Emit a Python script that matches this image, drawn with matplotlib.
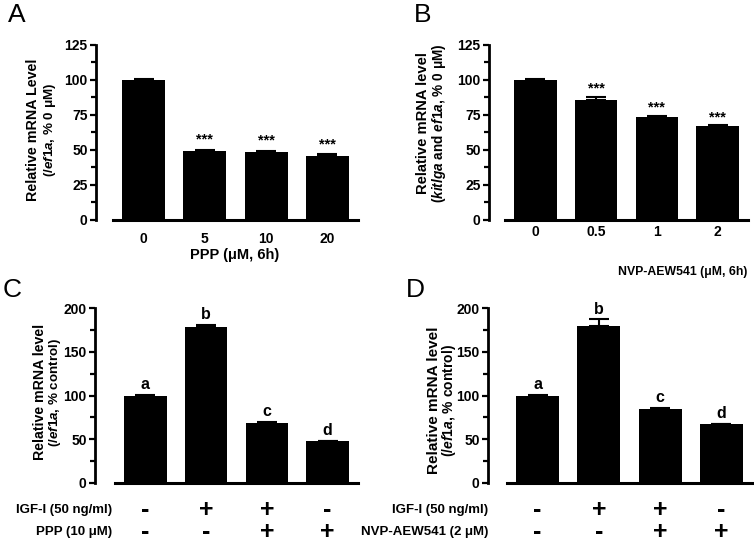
import matplotlib
matplotlib.use('Agg')
import matplotlib.pyplot as plt
import numpy as np
from matplotlib.ticker import MultipleLocator
from matplotlib.transforms import blended_transform_factory

plt.rcParams['font.family'] = ['Liberation Sans', 'DejaVu Sans']
plt.rcParams['font.weight'] = 'bold'
plt.rcParams['mathtext.fontset'] = 'custom'
plt.rcParams['mathtext.it'] = 'Liberation Sans:italic:bold'
plt.rcParams['mathtext.rm'] = 'Liberation Sans:bold'
plt.rcParams['mathtext.bf'] = 'Liberation Sans:bold'

# ---------------- data ----------------
a_labels = ['0', '5', '10', '20']
a_values = [100, 49, 48.5, 46]
a_errors = [1.0, 1.0, 0.5, 0.8]
a_marks = ['', '***', '***', '***']

b_labels = ['0', '0.5', '1', '2']
b_values = [100, 86, 73.5, 67]
b_errors = [1.0, 2.0, 0.8, 0.5]
b_marks = ['', '***', '***', '***']

c_values = [100, 178, 69, 48]
c_errors = [1.0, 3.0, 1.0, 0.5]
c_letters = ['a', 'b', 'c', 'd']
c_igf = ['-', '+', '+', '-']
c_ppp = ['-', '-', '+', '+']

d_values = [100, 180, 85, 67]
d_errors = [1.0, 7.0, 1.0, 0.5]
d_letters = ['a', 'b', 'c', 'd']
d_igf = ['-', '+', '+', '-']
d_nvp = ['-', '-', '+', '+']

W, H = 754, 549
fig = plt.figure(figsize=(W / 100, H / 100), dpi=100)


def fx(px):
    return px / W


def fy(py):
    return 1 - py / H


def make_ax(x0, x1, ytop, ybot, spine_px, ymax, major, minor, values, errors):
    ax = fig.add_axes([fx(x0), fy(ybot), (x1 - x0) / W, (ybot - ytop) / H])
    for s in ['top', 'right']:
        ax.spines[s].set_visible(False)
    ax.spines['left'].set_position(('outward', spine_px * 0.72))
    ax.spines['left'].set_linewidth(2)
    ax.spines['bottom'].set_linewidth(2.2)
    x = np.arange(len(values))
    ax.bar(x, values, width=0.7, color='black', zorder=2)
    ax.errorbar(x, values, yerr=[np.zeros(len(values)), errors], fmt='none',
                ecolor='black', elinewidth=1.5, capsize=7.5, capthick=1.5, zorder=1)
    ax.set_xlim(-0.5, len(values) - 0.5)
    ax.set_ylim(0, ymax)
    ax.yaxis.set_major_locator(MultipleLocator(major))
    ax.yaxis.set_minor_locator(MultipleLocator(minor))
    ax.tick_params(axis='y', which='major', length=4.5, width=1.6, labelsize=10, pad=1.5)
    ax.tick_params(axis='y', which='minor', length=3.5, width=1.6)
    ax.set_xticks(x)
    return ax


def ylabels(xl1, xl2, yc, t1, t2, s1, s2):
    fig.text(fx(xl1), fy(yc), t1, rotation=90, ha='center', va='center',
             fontsize=s1, fontweight='bold')
    fig.text(fx(xl2), fy(yc), t2, rotation=90, ha='center', va='center',
             fontsize=s2, fontweight='bold')


# ---------------- Panel A ----------------
axA = make_ax(113, 358, 45, 220, 17, 125, 25, 12.5, a_values, a_errors)
axA.set_xticklabels(a_labels, fontsize=10)
axA.tick_params(axis='x', length=0, pad=9)
for i, (v, e, m) in enumerate(zip(a_values, a_errors, a_marks)):
    if m:
        axA.annotate(m, xy=(i, v + e), xytext=(0, 2.5), textcoords='offset points',
                     ha='center', va='bottom', fontsize=10.5, fontweight='bold')
fig.text(fx(235), fy(255), 'PPP (μM, 6h)', ha='center', va='center',
         fontsize=10.5, fontweight='bold')
ylabels(33, 50, 130, 'Relative mRNA Level', r'(/$\mathit{ef1a}$, % 0 μM)', 10.3, 9.6)
fig.text(fx(17), fy(15), 'A', ha='center', va='center', fontsize=19, fontweight='normal')

# ---------------- Panel B ----------------
axB = make_ax(505, 748, 45, 220, 16, 125, 25, 12.5, b_values, b_errors)
axB.set_xticklabels(b_labels, fontsize=10)
axB.tick_params(axis='x', length=0, pad=3.5)
for i, (v, e, m) in enumerate(zip(b_values, b_errors, b_marks)):
    if m:
        axB.annotate(m, xy=(i, v + e), xytext=(0, 1), textcoords='offset points',
                     ha='center', va='bottom', fontsize=10.5, fontweight='bold')
fig.text(fx(683), fy(272), 'NVP-AEW541 (μM, 6h)', ha='center', va='center',
         fontsize=8.8, fontweight='bold')
ylabels(423, 439, 123, 'Relative mRNA level',
        r'($\mathit{kitlga}$ and $\mathit{ef1a}$, % 0 μM)', 10.6, 9.8)
fig.text(fx(423), fy(15), 'B', ha='center', va='center', fontsize=19, fontweight='normal')


# ---------------- Panels C, D ----------------
def treatment_rows(ax, rows, labels, xlab, ys):
    tr = blended_transform_factory(ax.transData, fig.transFigure)
    for row, lab, y in zip(rows, labels, ys):
        fig.text(fx(xlab), fy(y), lab, ha='right', va='center', fontsize=9.5,
                 fontweight='bold')
        for i, s in enumerate(row):
            ax.text(i, fy(y), s, transform=tr, ha='center', va='center',
                    fontsize=18, fontweight='heavy')


axC = make_ax(115, 358, 308, 483, 20, 200, 50, 25, c_values, c_errors)
axC.set_xticklabels([])
axC.tick_params(axis='x', length=0)
for i, (v, e, m) in enumerate(zip(c_values, c_errors, c_letters)):
    axC.annotate(m, xy=(i, v + e), xytext=(0, 2), textcoords='offset points',
                 ha='center', va='bottom', fontsize=11.5, fontweight='bold')
ylabels(40, 55, 392, 'Relative mRNA level', r'(/$\mathit{ef1a}$, % control)', 10.2, 9.6)
treatment_rows(axC, [c_igf, c_ppp], ['IGF-I (50 ng/ml)', 'PPP (10 μM)'], 112, [510, 532])
fig.text(fx(12), fy(290), 'C', ha='center', va='center', fontsize=19, fontweight='normal')

axD = make_ax(507, 752, 308, 483, 19, 200, 50, 25, d_values, d_errors)
axD.set_xticklabels([])
axD.tick_params(axis='x', length=0)
for i, (v, e, m) in enumerate(zip(d_values, d_errors, d_letters)):
    axD.annotate(m, xy=(i, v + e), xytext=(0, 2), textcoords='offset points',
                 ha='center', va='bottom', fontsize=11.5, fontweight='bold')
ylabels(434, 449, 400, 'Relative mRNA level', r'(/$\mathit{ef1a}$, % control)', 11, 10)
treatment_rows(axD, [d_igf, d_nvp], ['IGF-I (50 ng/ml)', 'NVP-AEW541 (2 μM)'], 488, [510, 532])
fig.text(fx(415), fy(290), 'D', ha='center', va='center', fontsize=19, fontweight='normal')

fig.savefig('out.png', dpi=100)
